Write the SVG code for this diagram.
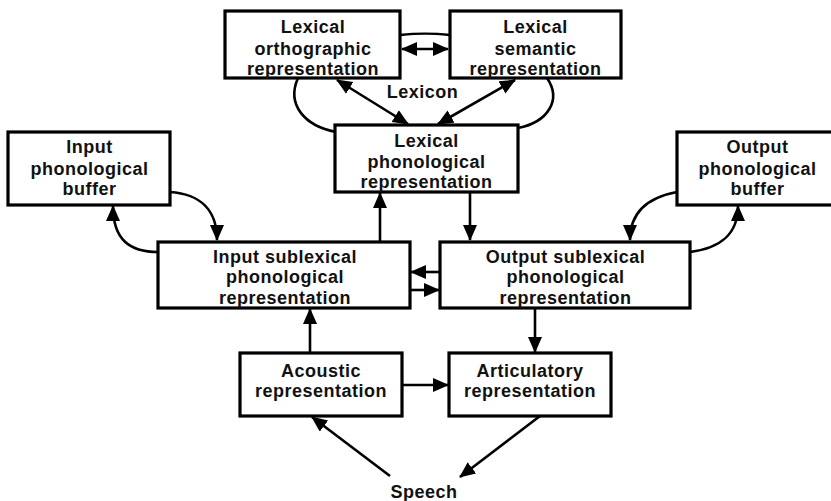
<svg xmlns="http://www.w3.org/2000/svg" width="831" height="501" viewBox="0 0 831 501">
<style>
.box{fill:#fff;stroke:#000;stroke-width:3.2}
.t{font-family:"Liberation Sans",Arial,sans-serif;font-weight:bold;font-size:18px;letter-spacing:0.5px;text-anchor:middle;fill:#111}
.c{fill:none;stroke:#000;stroke-width:2.6}
.a{marker-end:url(#ah)}
.d{marker-start:url(#ah);marker-end:url(#ah)}
</style>
<defs>
<marker id="ah" markerUnits="userSpaceOnUse" markerWidth="17" markerHeight="15" refX="15" refY="7" orient="auto-start-reverse" viewBox="0 0 17 15">
<path d="M0,0 L16,7 L0,14 z" fill="#000"/>
</marker>
</defs>
<rect width="831" height="501" fill="#fff"/>
<g id="connectors">
<path class="c" d="M400,35 C420,33 430,33 450,35"/>
<path class="c d" d="M402,49 L448,49"/>
<path class="c d" d="M337,80 L408,124"/>
<path class="c d" d="M515,80 L438,124"/>
<path class="c" d="M298,78 C286,105 305,126 336,132"/>
<path class="c" d="M547,78 C562,100 548,122 518,128"/>
<path class="c a" d="M170,192 C200,194 217,210 217,240"/>
<path class="c a" d="M158,252 C130,252 113,240 113,206"/>
<path class="c a" d="M380,241 L380,193"/>
<path class="c a" d="M470,192 L470,240"/>
<path class="c a" d="M677,192 C650,197 630,210 630,240"/>
<path class="c a" d="M690,252 C720,248 738,235 738,206"/>
<path class="c a" d="M440,272 L411,272"/>
<path class="c a" d="M410,290 L439,290"/>
<path class="c a" d="M310,353 L310,309"/>
<path class="c a" d="M535,308 L535,352"/>
<path class="c a" d="M402,385 L448,385"/>
<path class="c a" d="M390,476 L312,417"/>
<path class="c a" d="M540,416 L460,477"/>
</g>
<g id="lex-ortho">
<rect class="box" x="225" y="11" width="175" height="67"/>
<text class="t" x="313" y="33">Lexical</text>
<text class="t" x="313" y="55">orthographic</text>
<text class="t" x="313" y="75">representation</text>
</g>
<g id="lex-sem">
<rect class="box" x="450" y="11" width="171" height="67"/>
<text class="t" x="535.5" y="33">Lexical</text>
<text class="t" x="535.5" y="55">semantic</text>
<text class="t" x="535.5" y="75">representation</text>
</g>
<g id="lexicon">
<text class="t" x="422.5" y="98">Lexicon</text>
</g>
<g id="lex-phon">
<rect class="box" x="335" y="125" width="183" height="67"/>
<text class="t" x="426.5" y="147">Lexical</text>
<text class="t" x="426.5" y="168">phonological</text>
<text class="t" x="426.5" y="188">representation</text>
</g>
<g id="in-buf">
<rect class="box" x="8" y="132" width="162" height="73"/>
<text class="t" x="89.5" y="153">Input</text>
<text class="t" x="89.5" y="175">phonological</text>
<text class="t" x="89.5" y="195">buffer</text>
</g>
<g id="out-buf">
<rect class="box" x="677" y="132" width="161" height="73"/>
<text class="t" x="757.5" y="153">Output</text>
<text class="t" x="757.5" y="175">phonological</text>
<text class="t" x="757.5" y="195">buffer</text>
</g>
<g id="in-sub">
<rect class="box" x="158" y="242" width="252" height="66"/>
<text class="t" x="285" y="263">Input sublexical</text>
<text class="t" x="285" y="283">phonological</text>
<text class="t" x="285" y="303.5">representation</text>
</g>
<g id="out-sub">
<rect class="box" x="440" y="242" width="250" height="66"/>
<text class="t" x="565.5" y="263">Output sublexical</text>
<text class="t" x="565.5" y="283">phonological</text>
<text class="t" x="565.5" y="303.5">representation</text>
</g>
<g id="acoustic">
<rect class="box" x="240" y="353" width="162" height="63"/>
<text class="t" x="321" y="377">Acoustic</text>
<text class="t" x="321" y="397">representation</text>
</g>
<g id="articulatory">
<rect class="box" x="449" y="353" width="162" height="63"/>
<text class="t" x="530" y="377">Articulatory</text>
<text class="t" x="530" y="397">representation</text>
</g>
<g id="speech">
<text class="t" x="424" y="498">Speech</text>
</g>
</svg>
